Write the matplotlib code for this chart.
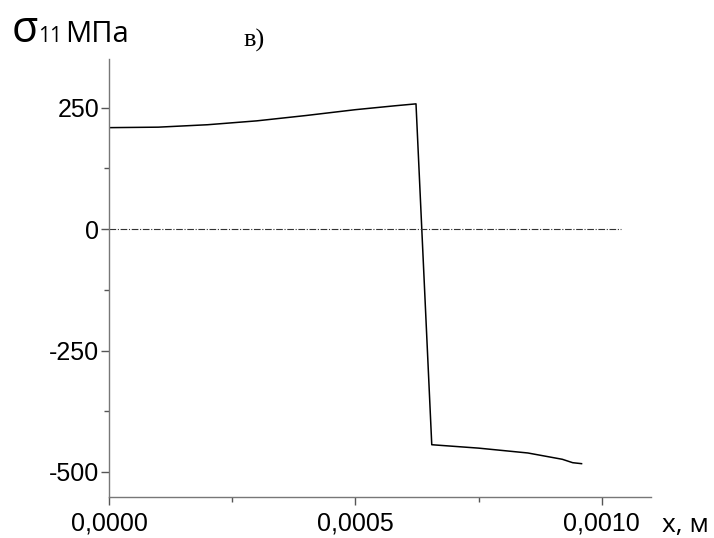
import matplotlib
matplotlib.use("Agg")
import matplotlib.pyplot as plt
from matplotlib.ticker import FixedLocator, FuncFormatter

# Data (x in m, sigma11 in MPa)
x_vals = [0.0, 0.0001, 0.0002, 0.0003, 0.0004, 0.0005, 0.00058, 0.000623,
          0.000655, 0.00075, 0.00085, 0.00092, 0.000941, 0.000959]
s_vals = [209, 210, 215, 223, 234, 246, 254, 258,
          -444, -451, -461, -474, -481, -483]
zero_x = [0.0, 0.00104]
zero_y = [0, 0]
x_major = [0.0, 0.0005, 0.0010]
x_minor = [0.00025, 0.00075]
y_major = [250, 0, -250, -500]
y_minor = [125, -125, -375]

fig = plt.figure(figsize=(7.14, 5.38), dpi=100)
ax = fig.add_axes([0.1527, 0.0768, 0.9118 - 0.1527, 0.890 - 0.0768])

ax.plot(x_vals, s_vals, color="black", lw=1.1)
ax.plot(zero_x, zero_y, color="#333333", lw=0.8, linestyle=(0, (6, 1.5, 1, 1.5)))

ax.set_xlim(0, 0.0011)
ax.set_ylim(-551, 350)

for s in ["top", "right"]:
    ax.spines[s].set_visible(False)
for s in ["left", "bottom"]:
    ax.spines[s].set_color("#777777")
    ax.spines[s].set_linewidth(1.0)

ax.xaxis.set_major_locator(FixedLocator(x_major))
ax.xaxis.set_minor_locator(FixedLocator(x_minor))
ax.yaxis.set_major_locator(FixedLocator(y_major))
ax.yaxis.set_minor_locator(FixedLocator(y_minor))
ax.xaxis.set_major_formatter(FuncFormatter(lambda v, p: f"{v:.4f}".replace(".", ",")))
ax.yaxis.set_major_formatter(FuncFormatter(lambda v, p: f"{v:.0f}"))

ax.tick_params(axis="both", which="major", length=6, width=1, color="#555555", direction="out")
ax.tick_params(axis="both", which="minor", length=3.5, width=1, color="#555555", direction="out")
ax.tick_params(axis="x", which="major", pad=5)
ax.tick_params(axis="y", which="major", pad=1)
for lab in ax.get_xticklabels() + ax.get_yticklabels():
    lab.set_fontfamily(["Liberation Sans", "DejaVu Sans"])
    lab.set_fontsize(18)

# y-axis label: sigma_11 MPa
fig.text(12 / 714, 1 - 42 / 538, "σ", fontsize=31, family=["Open Sans", "DejaVu Sans"], va="baseline", ha="left")
fig.text(38 / 714, 1 - 42 / 538, "11", fontsize=15, family=["Open Sans", "DejaVu Sans"], va="baseline", ha="left")
fig.text(65 / 714, 1 - 42 / 538, "МПа", fontsize=21, family=["Open Sans", "DejaVu Sans"], va="baseline", ha="left")

# panel label
fig.text(254 / 714, 1 - 47 / 538, "в)", fontsize=19, family=["Liberation Serif", "DejaVu Serif"], va="baseline", ha="center")

# x-axis label
fig.text(662 / 714, 1 - 532 / 538, "x, м", fontsize=19, family=["Open Sans", "DejaVu Sans"], va="baseline", ha="left")

fig.savefig("out.png", dpi=100)
